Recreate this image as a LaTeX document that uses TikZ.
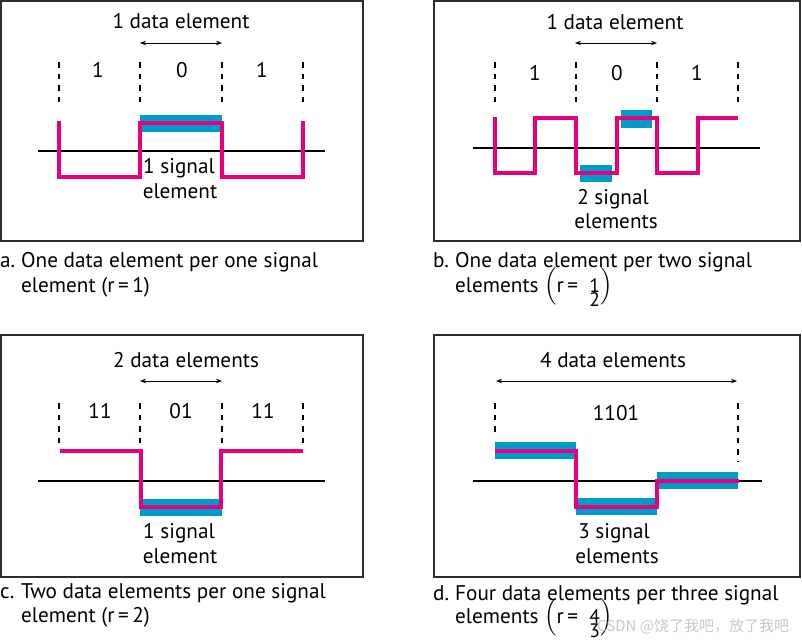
\documentclass[tikz,border=0pt]{standalone}
\usepackage{fontspec}
\usepackage{amsmath}
\setmainfont{PT Sans}
\newfontfamily\cjkfont{Noto Sans CJK SC}
\usetikzlibrary{arrows.meta}
\definecolor{sigpink}{RGB}{230,0,126}
\definecolor{elblue}{RGB}{0,156,200}
\definecolor{framegray}{RGB}{45,45,45}
\definecolor{wmgray}{RGB}{200,200,200}
\newcommand{\stackfrac}[2]{{\fontsize{19.5}{19.5}\selectfont\makebox[0pt][l]{#1}\raisebox{-14pt}{#2}}}
\begin{document}
\begin{tikzpicture}[x=1pt,y=-1pt,
  panel/.style={draw=framegray,line width=1.3pt},
  axisline/.style={line width=1.5pt},
  sig/.style={draw=sigpink,line width=3.6pt,line join=miter},
  elem/.style={fill=elblue},
  divider/.style={line width=1.2pt,dash pattern=on 5.5pt off 6pt},
  spanarrow/.style={line width=0.8pt,{Stealth[length=6pt,width=4.5pt]}-{Stealth[length=6pt,width=4.5pt]}},
  lbl/.style={font=\fontsize{21.2}{25}\selectfont,inner sep=0pt,anchor=base},
  captext/.style={font=\fontsize{21.2}{25}\selectfont,inner sep=0pt,anchor=base west},
  wm/.style={font=\cjkfont\fontsize{15}{18}\selectfont,text=wmgray,inner sep=0pt,anchor=base west},
]
\useasboundingbox (0,0) rectangle (802,642);

% ---------------- panel a ----------------
\draw[panel] (1,1) rectangle (363,241);
\node[lbl] (a-title) at (181,29) {1 data element};
\coordinate (a-l) at (140,43); \coordinate (a-r) at (222,43);
\draw[spanarrow] (a-l) -- (a-r);
\foreach \x in {59,140,222,303} \draw[divider] (\x,62) -- (\x,102);
\node[lbl] (a-d1) at (98,77) {1};
\node[lbl] (a-d2) at (182,77) {0};
\node[lbl] (a-d3) at (262,77) {1};
\draw[axisline] (38,151) -- (325,151);
\fill[elem] (140,115) rectangle (222,132);
\draw[sig] (59,121) -- (59,177) -- (140,177) -- (140,123) -- (222,123) -- (222,177) -- (303,177) -- (303,121);
\node[lbl] (a-s1) at (179,173) {1 signal};
\node[lbl] (a-s2) at (180,198) {element};
\node[captext] (a-tag) at (0,267) {a.};
\node[captext] (a-c1) at (21,267) {One data element per one signal};
\node[captext] (a-c2) at (21,292) {element (r\,=\,1)};

% ---------------- panel b ----------------
\draw[panel] (434,1) rectangle (800,241);
\node[lbl] (b-title) at (615,30) {1 data element};
\coordinate (b-l) at (575,43); \coordinate (b-r) at (657,43);
\draw[spanarrow] (b-l) -- (b-r);
\foreach \x in {495,576,657,738} \draw[divider] (\x,62) -- (\x,102);
\node[lbl] (b-d1) at (535,80) {1};
\node[lbl] (b-d2) at (617,80) {0};
\node[lbl] (b-d3) at (697,80) {1};
\draw[axisline] (473,148) -- (760,148);
\fill[elem] (580,165) rectangle (612,182);
\fill[elem] (621,110) rectangle (652,128);
\draw[sig] (495,117) -- (495,173) -- (535,173) -- (535,118) -- (576,118) -- (576,173) -- (617,173) -- (617,118) -- (657,118) -- (657,173) -- (698,173) -- (698,118) -- (738,118);
\node[lbl] (b-s1) at (613,204) {2 signal};
\node[lbl] (b-s2) at (616,228) {elements};
\node[captext] (b-tag) at (433,267) {b.};
\node[captext] (b-c1) at (455,267) {One data element per two signal};
\node[captext] (b-c2) at (455,292) {elements $\Big($r\,=\ \ \stackfrac{1}{2}$\Big)$};

% ---------------- panel c ----------------
\draw[panel] (1,335) rectangle (363,577);
\node[lbl] (c-title) at (186,367) {2 data elements};
\coordinate (c-l) at (140,381); \coordinate (c-r) at (222,381);
\draw[spanarrow] (c-l) -- (c-r);
\foreach \x in {59,140,222,303} \draw[divider] (\x,403) -- (\x,443);
\node[lbl] (c-d1) at (100,418) {11};
\node[lbl] (c-d2) at (181,418) {01};
\node[lbl] (c-d3) at (263,418) {11};
\draw[axisline] (38,481) -- (325,481);
\fill[elem] (140,499) rectangle (222,516);
\draw[sig] (60,451) -- (141,451) -- (141,507) -- (221,507) -- (221,451) -- (303,451);
\node[lbl] (c-s1) at (179,538) {1 signal};
\node[lbl] (c-s2) at (180,563) {element};
\node[captext] (c-tag) at (0,598) {c.};
\node[captext] (c-c1) at (21,598) {Two data elements per one signal};
\node[captext] (c-c2) at (21,622) {element (r\,=\,2)};

% ---------------- panel d ----------------
\draw[panel] (434,335) rectangle (800,577);
\node[lbl] (d-title) at (613,367) {4 data elements};
\coordinate (d-l) at (496,381); \coordinate (d-r) at (737,381);
\draw[spanarrow] (d-l) -- (d-r);
\draw[divider] (495,403) -- (495,437);
\draw[divider] (738,403) -- (738,462);
\node[lbl] (d-d1) at (616,420) {1101};
\draw[axisline] (473,481) -- (762,481);
\fill[elem] (495,442) rectangle (576,459);
\fill[elem] (576,498) rectangle (657,515);
\fill[elem] (657,472) rectangle (738,489);
\draw[sig] (495,451) -- (576,451) -- (576,507) -- (657,507) -- (657,481) -- (739,481);
\node[lbl] (d-s1) at (614,538) {3 signal};
\node[lbl] (d-s2) at (617,563) {elements};
\node[captext] (d-tag) at (433,600) {d.};
\node[captext] (d-c1) at (455,600) {Four data elements per three signal};
\node[captext] (d-c2) at (455,623) {elements $\Big($r\,=\ \ \stackfrac{4}{3}$\Big)$};

\node[wm] (wmark) at (597,631) {CSDN @饶了我吧，放了我吧};
\end{tikzpicture}
\end{document}
